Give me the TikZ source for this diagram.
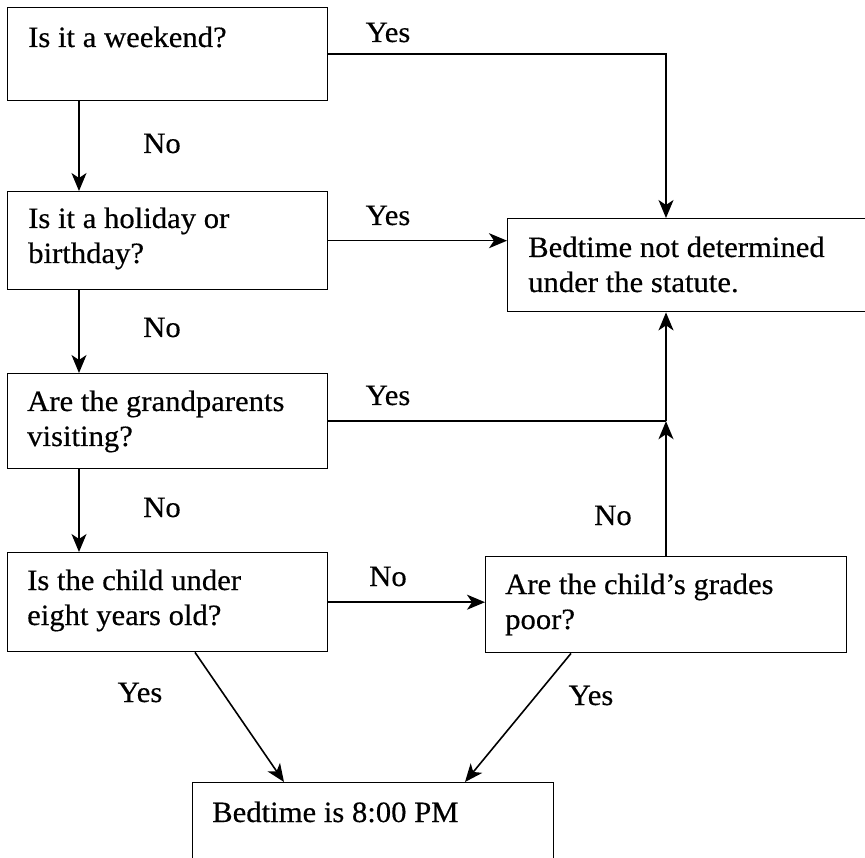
\documentclass[tikz,border=0pt]{standalone}
\usepackage{fontspec}
\setmainfont{Liberation Serif}[FakeStretch=1.04,FakeBold=0.4]
\usetikzlibrary{arrows.meta,positioning}

\begin{document}
\begin{tikzpicture}[
  x=1pt,y=-1pt,
  every node/.style={font=\fontsize{29.5}{35}\selectfont},
  box/.style={draw,line width=1.4pt,anchor=north west,inner sep=0pt},
  qtext/.style={anchor=base west,align=left,inner sep=0pt},
  lbl/.style={anchor=base,inner sep=0pt},
  link/.style={line width=1.6pt},
  arr/.style={link,-{Stealth[length=18pt,width=15pt,inset=5pt]}}
]
\useasboundingbox (0,0) rectangle (865,858);

% question boxes down the left
\node[box,minimum width=320,minimum height=93] (weekend) at (7,7) {};
\node[box,minimum width=320,minimum height=98] (holiday) at (7,191) {};
\node[box,minimum width=320,minimum height=95] (grand) at (7,373) {};
\node[box,minimum width=320,minimum height=99] (child) at (7,552) {};
\node[box,minimum width=361,minimum height=96] (grades) at (485,556) {};

% outcome boxes (cut off at the page edge)
\node[box,minimum width=400,minimum height=93] (notdet) at (507,218) {};
\node[box,minimum width=361,minimum height=120] (pm) at (192,782) {};

% text sits on the baseline of its last line
\node[qtext] (weekendq) at (28,47) {Is it a weekend?};
\node[qtext] (holidayq) at (28,263) {Is it a holiday or\\birthday?};
\node[qtext] (grandq) at (27,446) {Are the grandparents\\visiting?};
\node[qtext] (childq) at (27,625) {Is the child under\\eight years old?};
\node[qtext] (gradesq) at (505,629) {Are the child's grades\\poor?};
\node[qtext] (notdetq) at (528,292) {Bedtime not determined\\under the statute.};
\node[qtext] (pmq) at (212,822) {Bedtime is 8:00 PM};

\coordinate (dx) at (79,0);
\coordinate (vx) at (666,0);

% No: straight down
\draw[arr] (weekend.south -| dx) -- (holiday.north -| dx);
\draw[arr] (holiday.south -| dx) -- (grand.north -| dx);
\draw[arr] (grand.south -| dx) -- (child.north -| dx);
\draw[arr] (child.east) -- (child.east -| grades.west);

% Yes: to the right
\draw[arr] (weekend.east) -| (notdet.north -| vx);
\draw[arr] (holiday.east) -- (holiday.east -| notdet.west);
\draw[link] (grand.east) -- (grand.east -| vx);
\draw[arr] (grand.east -| vx) -- (notdet.south -| vx);
\draw[arr] (grades.north -| vx) -- (grand.east -| vx);

% into the 8:00 PM box
\draw[arr] ([xshift=188pt]child.south west) -- ([xshift=92pt]pm.north west);
\draw[arr] ([xshift=86pt]grades.south west) -- ([xshift=273pt]pm.north west);

\node[lbl] (yes1) at (388,42) {Yes};
\node[lbl] (no1) at (162,153) {No};
\node[lbl] (yes2) at (388,225) {Yes};
\node[lbl] (no2) at (162,337) {No};
\node[lbl] (yes3) at (388,405) {Yes};
\node[lbl] (no3) at (162,517) {No};
\node[lbl] (no4) at (388,586) {No};
\node[lbl] (no5) at (613,525) {No};
\node[lbl] (yes4) at (140,702) {Yes};
\node[lbl] (yes5) at (591,705) {Yes};
\end{tikzpicture}
\end{document}
